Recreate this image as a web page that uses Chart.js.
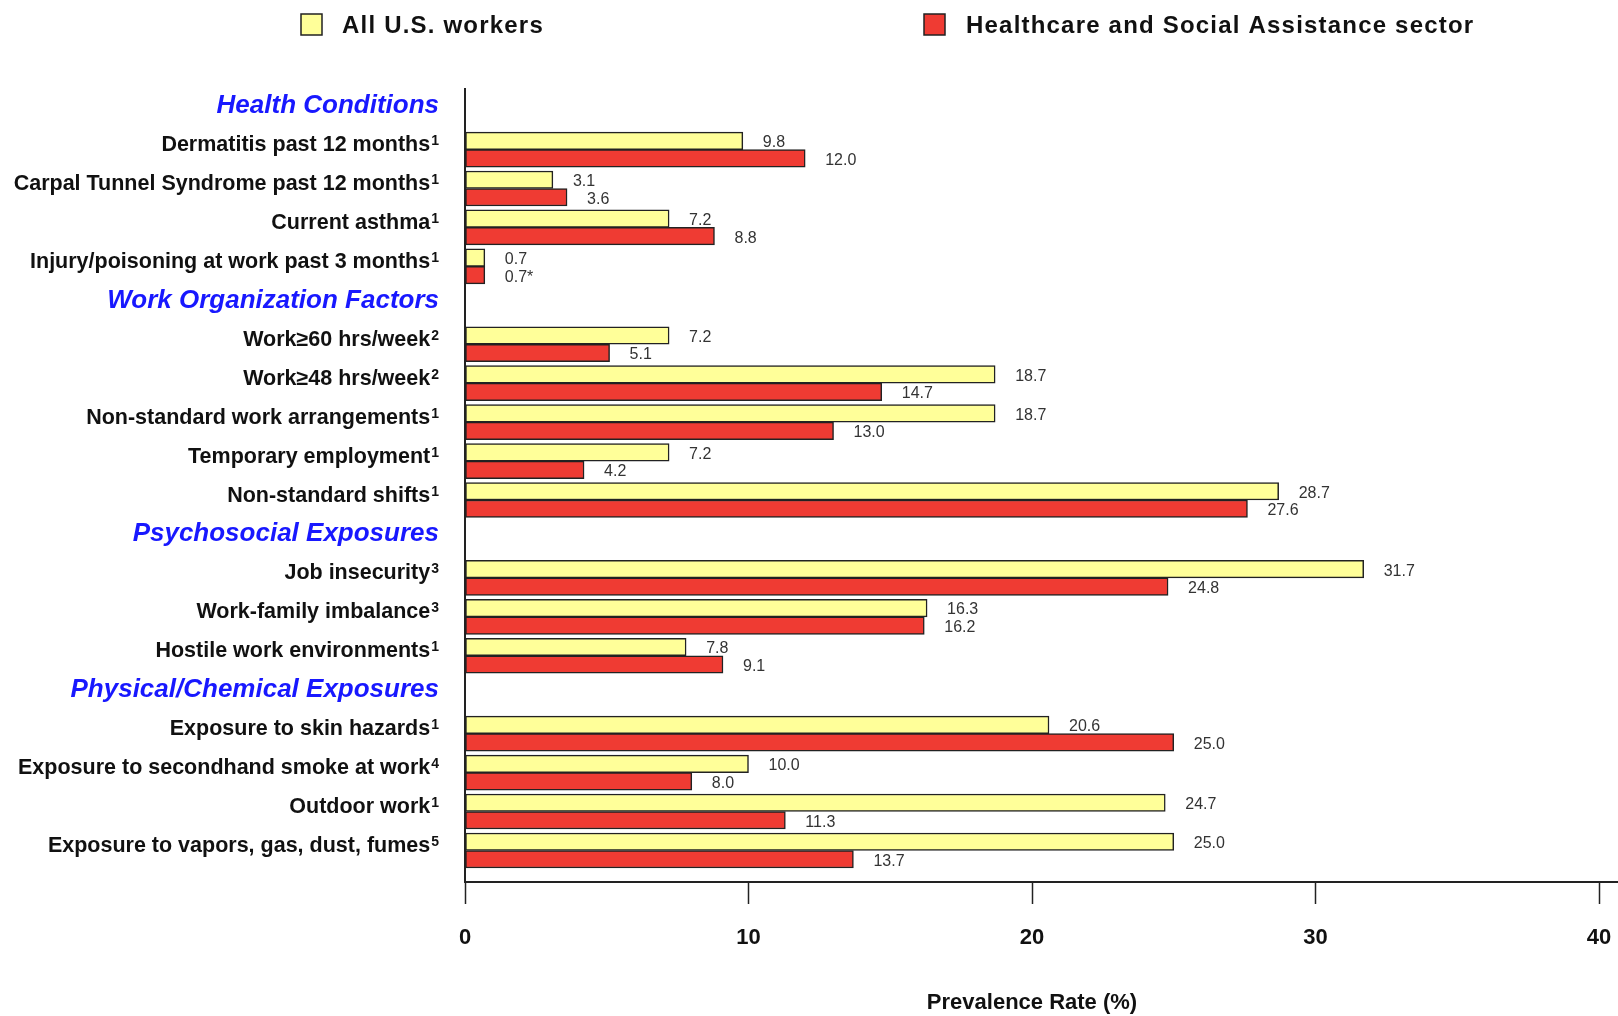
<!DOCTYPE html>
<html>
<head>
<meta charset="utf-8">
<script src="https://cdn.jsdelivr.net/npm/chart.js@4"></script>
<style>
  body { margin: 0; background: #fff; }
  #wrap { width: 1618px; height: 1016px; }
</style>
</head>
<body>
<div id="wrap"><canvas id="myChart"></canvas></div>
<script>
const categories = [
  "Health Conditions",
  "Dermatitis past 12 months",
  "Carpal Tunnel Syndrome past 12 months",
  "Current asthma",
  "Injury/poisoning at work past 3 months",
  "Work Organization Factors",
  "Work≥60 hrs/week",
  "Work≥48 hrs/week",
  "Non-standard work arrangements",
  "Temporary employment",
  "Non-standard shifts",
  "Psychosocial Exposures",
  "Job insecurity",
  "Work-family imbalance",
  "Hostile work environments",
  "Physical/Chemical Exposures",
  "Exposure to skin hazards",
  "Exposure to secondhand smoke at work",
  "Outdoor work",
  "Exposure to vapors, gas, dust, fumes",
];
const sectionHeaders = [
  "Health Conditions",
  "Work Organization Factors",
  "Psychosocial Exposures",
  "Physical/Chemical Exposures",
];
const footnotes = ["", "1", "1", "1", "1", "", "2", "2", "1", "1", "1", "", "3", "3", "1", "", "1", "4", "1", "5"];
const allWorkers = [null, 9.8, 3.1, 7.2, 0.7, null, 7.2, 18.7, 18.7, 7.2, 28.7, null, 31.7, 16.3, 7.8, null, 20.6, 10.0, 24.7, 25.0];
const healthcare = [null, 12.0, 3.6, 8.8, 0.7, null, 5.1, 14.7, 13.0, 4.2, 27.6, null, 24.8, 16.2, 9.1, null, 25.0, 8.0, 11.3, 13.7];
const healthcareFlags = ["", "", "", "", "*", "", "", "", "", "", "", "", "", "", "", "", "", "", "", ""];
const allWorkersFlags = categories.map(() => "");
const xTicks = [0, 10, 20, 30, 40];

const FONT = '"Liberation Sans", Arial, sans-serif';

function toPoints(values) {
  return values
    .map((v, i) => ({ x: v, y: i }))
    .filter((p) => p.x !== null);
}

// y labels, drawn by hand because of the superscripts and section headers
const rowLabels = {
  id: "rowLabels",
  afterDraw(chart) {
    const ctx = chart.ctx;
    const y = chart.scales.y;
    const right = chart.chartArea.left - 26;
    ctx.save();
    ctx.textBaseline = "alphabetic";
    categories.forEach((label, i) => {
      const py = y.getPixelForValue(i);
      if (sectionHeaders.includes(label)) {
        ctx.font = "italic bold 26px " + FONT;
        ctx.fillStyle = "#1818ff";
        ctx.textAlign = "right";
        ctx.fillText(label, right, py - 7 + 9.3);
        return;
      }
      const cy = py - 6;
      let textRight = right;
      if (footnotes[i]) {
        ctx.font = "bold 14px " + FONT;
        ctx.fillStyle = "#111";
        ctx.textAlign = "right";
        ctx.fillText(footnotes[i], right, cy + 1.5);
        textRight = right - ctx.measureText(footnotes[i]).width - 1;
      }
      ctx.font = "bold 21.5px " + FONT;
      ctx.fillStyle = "#111";
      ctx.textAlign = "right";
      ctx.fillText(label, textRight, cy + 7.5);
    });
    ctx.restore();
  },
};

// numbers at the end of each bar
const valueLabels = {
  id: "valueLabels",
  afterDatasetsDraw(chart) {
    const ctx = chart.ctx;
    ctx.save();
    ctx.font = "16px " + FONT;
    ctx.fillStyle = "#333";
    ctx.textAlign = "left";
    ctx.textBaseline = "middle";
    chart.data.datasets.forEach((ds, di) => {
      const meta = chart.getDatasetMeta(di);
      meta.data.forEach((bar, j) => {
        const pt = ds.data[j];
        ctx.fillText(pt.x.toFixed(1) + ds.flags[pt.y], bar.x + 20, bar.y + 2);
      });
    });
    ctx.restore();
  },
};

// legend boxes at the top, and the x axis line running on to the edge
const topLegend = {
  id: "topLegend",
  afterDraw(chart) {
    const ctx = chart.ctx;
    const spots = [{ box: 301, text: 342 }, { box: 924, text: 966 }];
    ctx.save();
    chart.data.datasets.forEach((ds, i) => {
      ctx.fillStyle = ds.backgroundColor;
      ctx.fillRect(spots[i].box, 14, 21, 21);
      ctx.strokeStyle = "#222";
      ctx.lineWidth = 1.5;
      ctx.strokeRect(spots[i].box, 14, 21, 21);
      ctx.font = "bold 24px " + FONT;
      ctx.letterSpacing = "1.2px";
      ctx.fillStyle = "#111";
      ctx.textAlign = "left";
      ctx.textBaseline = "middle";
      ctx.fillText(ds.label, spots[i].text, 26);
      ctx.letterSpacing = "0px";
    });
    const a = chart.chartArea;
    ctx.strokeStyle = "#222";
    ctx.lineWidth = 2;
    ctx.beginPath();
    ctx.moveTo(a.right, a.bottom);
    ctx.lineTo(chart.width, a.bottom);
    ctx.stroke();
    ctx.restore();
  },
};

const ctx = document.getElementById("myChart");

const chart = new Chart(ctx, {
  type: "bar",
  data: {
    datasets: [
      {
        label: "All U.S. workers",
        data: toPoints(allWorkers),
        flags: allWorkersFlags,
        backgroundColor: "#ffff99",
        borderColor: "#222",
        borderWidth: 1.5,
        borderSkipped: false,
        barThickness: 17.5,
      },
      {
        label: "Healthcare and Social Assistance sector",
        data: toPoints(healthcare),
        flags: healthcareFlags,
        backgroundColor: "#ef3b33",
        borderColor: "#222",
        borderWidth: 1.5,
        borderSkipped: false,
        barThickness: 17.5,
      },
    ],
  },
  options: {
    indexAxis: "y",
    responsive: true,
    maintainAspectRatio: false,
    animation: false,
    layout: {
      padding: { left: 465, right: 19, top: 89, bottom: 0 },
    },
    scales: {
      y: {
        type: "linear",
        reverse: true,
        offset: false,
        min: -0.555,
        max: 19.81,
        ticks: { display: false },
        grid: { display: false, offset: false },
        border: { display: true, color: "#222", width: 2 },
        afterFit(scale) {
          scale.width = 0;
        },
      },
      x: {
        type: "linear",
        position: "bottom",
        min: 0,
        max: 40,
        afterBuildTicks(scale) {
          scale.ticks = xTicks.map((v) => ({ value: v }));
        },
        ticks: {
          color: "#111",
          font: { family: FONT, size: 22, weight: "bold" },
          padding: 21,
          maxRotation: 0,
        },
        grid: {
          display: true,
          drawOnChartArea: false,
          drawTicks: true,
          tickLength: 22,
          tickColor: "#222",
          tickWidth: 1.5,
        },
        border: { display: true, color: "#222", width: 2 },
        title: {
          display: true,
          text: "Prevalence Rate (%)",
          color: "#111",
          font: { family: FONT, size: 22, weight: "bold" },
          padding: 0,
        },
        afterFit(scale) {
          scale.height = 134;
          scale.paddingLeft = 0;
          scale.paddingRight = 0;
        },
      },
    },
    plugins: {
      legend: { display: false },
      tooltip: { enabled: false },
    },
  },
  plugins: [rowLabels, valueLabels, topLegend],
});
</script>
</body>
</html>
